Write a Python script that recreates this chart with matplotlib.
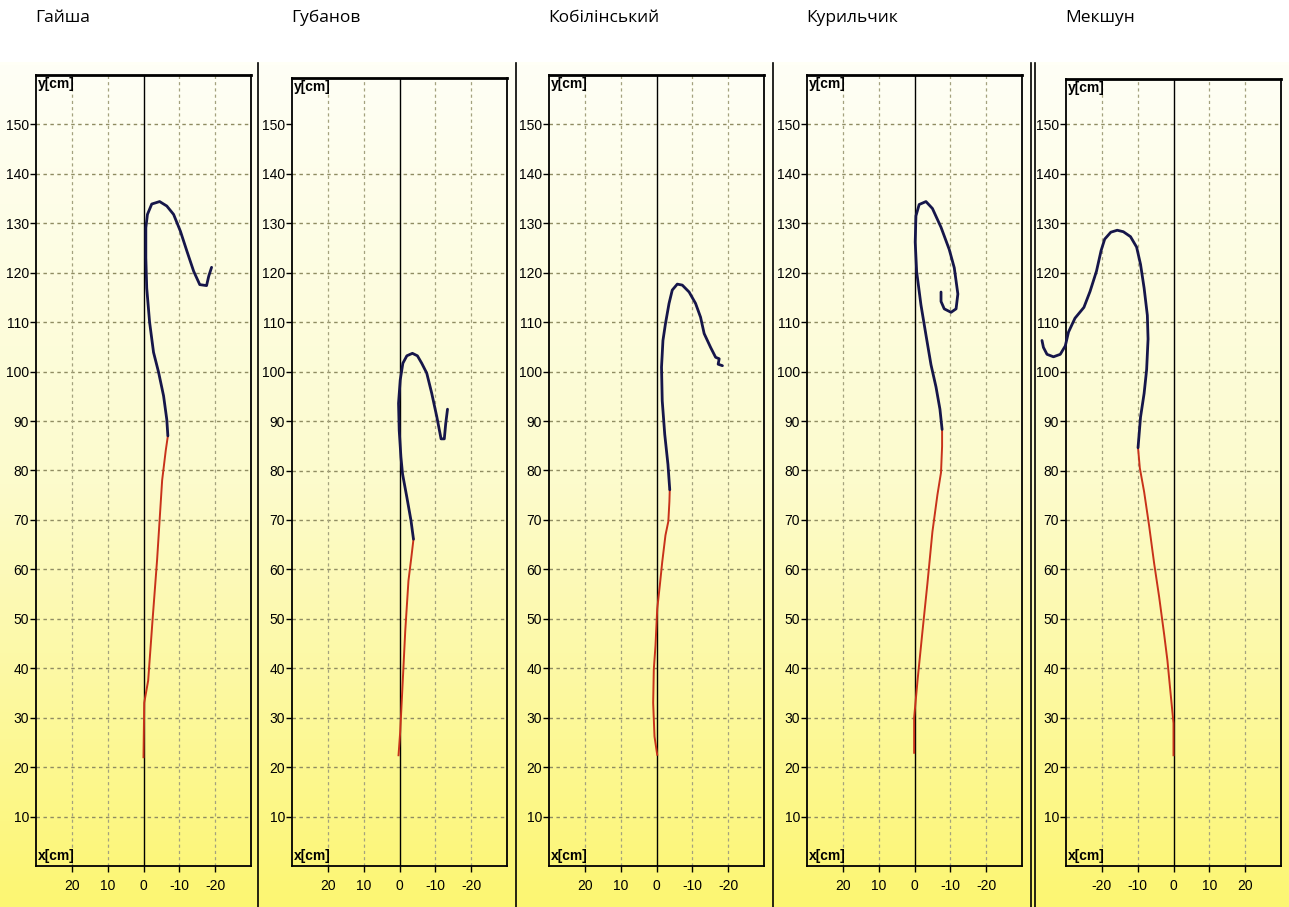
import numpy as np
import matplotlib
matplotlib.use("Agg")
import matplotlib.pyplot as plt
from matplotlib.colors import LinearSegmentedColormap
from matplotlib.lines import Line2D

plt.rcParams['font.family'] = ['Liberation Sans', 'DejaVu Sans']

W, H = 1289, 907

names = ['Гайша', 'Губанов', 'Кобілінський', 'Курильчик', 'Мекшун']

# red = lower part of trajectory, navy = upper part (x[cm], y[cm])
gaysha_red_x = [0, -0.2, -1.3, -2.5, -3.8, -5.2, -6.2, -6.8]
gaysha_red_y = [22, 33, 37.5, 49.5, 62, 78, 84, 87]
gaysha_navy_x = [-6.8, -6.5, -5.6, -4.2, -2.8, -1.7, -0.9, -0.65, -0.65, -1.1, -2.3,
                 -4.5, -6.5, -8.4, -10.3, -12.1, -14, -15.7, -17.6, -18.2, -19]
gaysha_navy_y = [87, 90.3, 95.1, 99.9, 103.9, 110, 116.9, 123, 129.1, 131.8, 133.9,
                 134.4, 133.5, 131.8, 128.4, 124.4, 120.3, 117.6, 117.4, 119.3, 121.1]

gubanov_red_x = [0.27, -0.2, -0.9, -1.6, -2.5, -3.3, -3.9]
gubanov_red_y = [22.4, 27.2, 37.3, 47.5, 57.7, 62.4, 66.1]
gubanov_navy_x = [-3.9, -3.2, -2.05, -0.85, -0.4, 0.08, 0.27, -0.2, -0.94, -2.05, -3.6,
                  -5.0, -6.2, -7.6, -9.0, -10.4, -11.6, -12.5, -12.9, -13.4]
gubanov_navy_y = [66.1, 69.9, 74.6, 79.3, 82.7, 88.1, 93.6, 98.3, 101.7, 103.2, 103.7,
                  103.2, 101.7, 99.7, 95.6, 90.9, 86.4, 86.4, 89.5, 92.4]

kobil_red_x = [-0.2, 0.56, 0.93, 0.75, 0.28, -0.2, -0.93, -1.6, -2.5, -3.3, -3.6, -3.7]
kobil_red_y = [22.5, 26.2, 33, 39.8, 44.6, 52, 56.8, 61.5, 66.9, 69.7, 73.7, 76.1]
kobil_navy_x = [-3.7, -3.2, -2.3, -1.6, -1.4, -1.8, -2.5, -3.5, -4.4, -5.8, -7.2,
                -9.1, -10.9, -12.3, -13.3, -15.1, -16.5, -17.5, -17.2, -18.4]
kobil_navy_y = [76.1, 81.2, 87.3, 94.1, 100.9, 106.3, 109.7, 113.8, 116.5, 117.7, 117.5,
                116.1, 113.8, 111, 107.7, 104.9, 102.9, 102.6, 101.5, 101.2]

kuryl_red_x = [0.1, 0.1, -0.84, -2.2, -3.6, -5, -6.4, -7.4, -7.7, -7.7]
kuryl_red_y = [22.9, 30, 37.5, 47.3, 57.1, 67.6, 75.1, 79.6, 84.9, 88.3]
kuryl_navy_x = [-7.7, -7.1, -6, -4.6, -3.2, -1.8, -0.6, -0.2, -0.4, -1.3, -3.2,
                -5, -7.4, -9.7, -11.1, -12.1, -11.6, -10.2, -8.3, -7.4, -7.4]
kuryl_navy_y = [88.3, 92.4, 96.9, 101.4, 107.4, 113.5, 120.2, 126.2, 131.5, 133.8, 134.4,
                133, 129.2, 124.7, 121, 115.7, 112.7, 112, 112.7, 114.2, 116.1]

meksh_red_x = [0, 0, -0.93, -1.7, -2.6, -4, -5.4, -6.8, -8.2, -9.4, -9.9]
meksh_red_y = [22.4, 28.9, 35.8, 41.6, 46.8, 54.4, 61.2, 68.8, 75.7, 80.5, 84.6]
meksh_navy_x = [-9.9, -9.2, -8.2, -7.5, -7.1, -7.3, -8.2, -9.2, -10.3, -12, -14, -15.7,
                -17.5, -19.2, -20.2, -21.5, -23.3, -25, -27.5, -29.3, -30.2, -31.6,
                -33.5, -35.3, -36.3, -36.7]
meksh_navy_y = [84.6, 90.8, 95.6, 100.4, 106.6, 111.4, 116.9, 121.7, 125.2, 127.3, 128.3,
                128.6, 128.2, 126.8, 124.5, 120.3, 116.2, 113, 110.8, 108, 105.2, 103.5,
                103, 103.5, 104.9, 106.3]

red_x = [gaysha_red_x, gubanov_red_x, kobil_red_x, kuryl_red_x, meksh_red_x]
red_y = [gaysha_red_y, gubanov_red_y, kobil_red_y, kuryl_red_y, meksh_red_y]
navy_x = [gaysha_navy_x, gubanov_navy_x, kobil_navy_x, kuryl_navy_x, meksh_navy_x]
navy_y = [gaysha_navy_y, gubanov_navy_y, kobil_navy_y, kuryl_navy_y, meksh_navy_y]

y_ticks = list(range(10, 151, 10))
x_ticks = [20, 10, 0, -10, -20]
x_inverted = [True, True, True, True, False]

# panel geometry in pixels
ax_left = [36, 292, 549, 807, 1066]
ax_top = [75, 78, 75, 75, 79]
ax_bottom = 866
ax_width = 215
px_per_cm = (ax_bottom - 75) / 160.0

fig = plt.figure(figsize=(W / 100, H / 100), dpi=100)
fig.patch.set_facecolor('white')

# yellow gradient backdrop
bg = fig.add_axes([0, 0, 1, (H - 62) / H], zorder=-10)
cmap = LinearSegmentedColormap.from_list('yl', ['#fffff6', '#fcfbcc', '#fcf672'])
grad = np.linspace(0, 1, 256).reshape(-1, 1)
bg.imshow(grad, aspect='auto', cmap=cmap, extent=[0, 1, 1, 0])
bg.set_axis_off()

for i in range(5):
    top = ax_top[i]
    ymax = (ax_bottom - top) / px_per_cm
    ax = fig.add_axes([ax_left[i] / W, (H - ax_bottom) / H, ax_width / W, (ax_bottom - top) / H])
    ax.set_facecolor('none')
    ax.set_ylim(0, ymax)
    if x_inverted[i]:
        ax.set_xlim(30, -30)
    else:
        ax.set_xlim(-30, 30)

    for v in y_ticks:
        if i == 1 and v == 150:
            continue
        ax.axhline(v, color='#8f8c62', lw=1, ls=(0, (2.5, 2.5)), zorder=1)
    for v in x_ticks:
        if v != 0:
            ax.axvline(v, color='#a4a27e', lw=0.9, ls=(0, (2.5, 2.5)), zorder=1)
    ax.axvline(0, color='black', lw=1, zorder=2)

    ax.plot(red_x[i], red_y[i], color='#c8321a', lw=1.4, zorder=3, clip_on=False)
    ax.plot(navy_x[i], navy_y[i], color='#16164a', lw=2.0, zorder=4, clip_on=False,
            solid_capstyle='round', solid_joinstyle='round')

    ax.set_yticks(y_ticks)
    ax.set_yticklabels([str(v) for v in y_ticks])
    tick_vals = x_ticks if x_inverted[i] else x_ticks[::-1]
    ax.set_xticks(tick_vals)
    ax.set_xticklabels([str(v) for v in tick_vals])
    ax.tick_params(axis='y', direction='out', length=4, width=1, labelsize=10, pad=1)
    ax.tick_params(axis='x', direction='out', length=4, width=1, labelsize=10, pad=5)
    for s in ax.spines.values():
        s.set_linewidth(1.3)
        s.set_color('black')
    ax.spines['top'].set_linewidth(2)

    ax.text(0.01, 0.997, 'y[cm]', transform=ax.transAxes, ha='left', va='top',
            fontsize=10, fontweight='bold')
    ax.text(0.01, 0.004, 'x[cm]', transform=ax.transAxes, ha='left', va='bottom',
            fontsize=10, fontweight='bold')

    fig.text((ax_left[i] - 1) / W, 1 - 18 / H, names[i], ha='left', va='center',
             fontsize=12.5, family=['Open Sans', 'DejaVu Sans'])

# panel separators
for xp in [258, 516, 773, 1031, 1035]:
    fig.add_artist(Line2D([xp / W, xp / W], [0, (H - 63) / H], color='black', lw=1.2,
                          transform=fig.transFigure))

fig.savefig('out.png', dpi=100)
